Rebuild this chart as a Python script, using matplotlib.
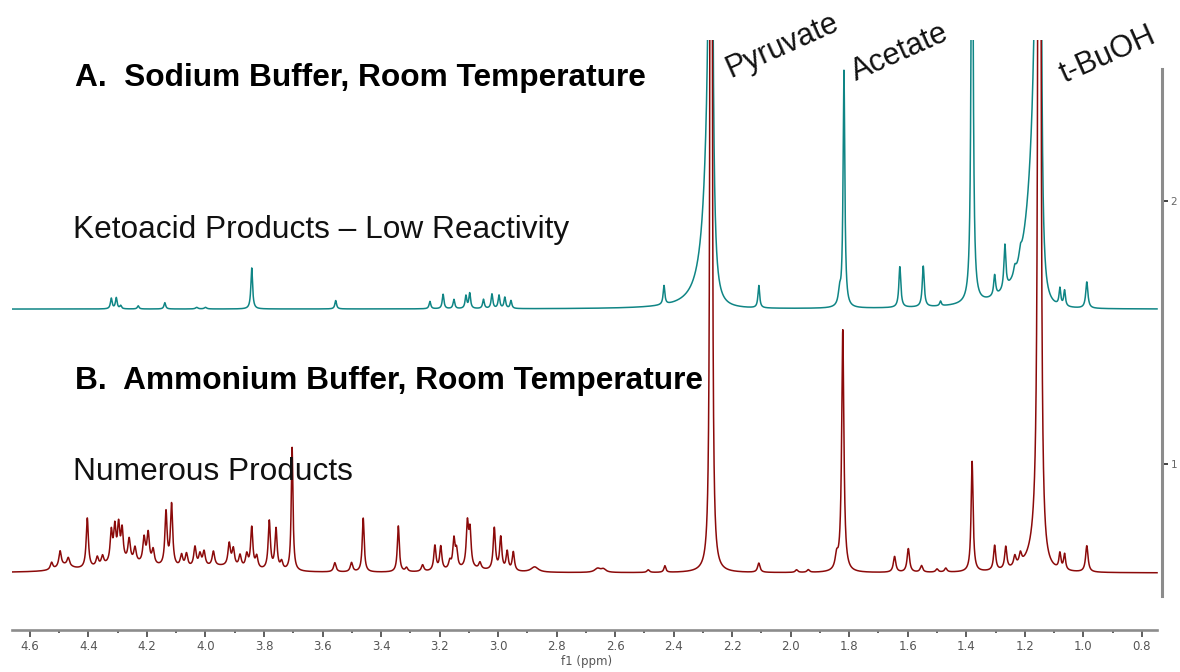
import numpy as np
import matplotlib
matplotlib.use("Agg")
import matplotlib.pyplot as plt
from matplotlib.ticker import FixedLocator

# ---------------------------------------------------------------------------
# Peak lists (chemical shift in ppm, height in intensity units,
# half-widths in ppm on the high-ppm / low-ppm side of each line)
# ---------------------------------------------------------------------------

# A. sodium buffer, room temperature (teal trace)
a_offset = 1.589
a_ppm = [4.322, 4.305, 4.290, 4.230, 4.139, 4.030, 4.000, 3.842, 3.555,
         3.233, 3.188, 3.151, 3.110, 3.097, 3.050, 3.021, 2.997, 2.977,
         2.956, 2.433, 2.273, 2.273, 2.109, 1.833, 1.818, 1.627, 1.547,
         1.488, 1.380, 1.303, 1.268, 1.234, 1.215, 1.150, 1.150, 1.080,
         1.064, 0.988]
a_height = [0.040, 0.042, 0.012, 0.012, 0.024, 0.006, 0.006, 0.156, 0.032,
            0.028, 0.055, 0.035, 0.048, 0.058, 0.035, 0.055, 0.050, 0.042,
            0.030, 0.072, 20.00, 0.840, 0.085, 0.050, 0.900, 0.155, 0.155,
            0.018, 2.200, 0.080, 0.170, 0.030, 0.035, 19.00, 0.750, 0.065,
            0.060, 0.100]
a_hw_high = [0.0035, 0.0035, 0.0035, 0.0035, 0.0035, 0.005, 0.005, 0.0035,
             0.0035, 0.0035, 0.0035, 0.0035, 0.0035, 0.0035, 0.0035, 0.0035,
             0.0035, 0.0035, 0.0035, 0.0035, 0.0015, 0.022, 0.0035, 0.005,
             0.0035, 0.004, 0.004, 0.0035, 0.0035, 0.004, 0.004, 0.005,
             0.005, 0.003, 0.035, 0.0035, 0.0035, 0.0045]
a_hw_low = [0.0035, 0.0035, 0.0035, 0.0035, 0.0035, 0.005, 0.005, 0.0035,
            0.0035, 0.0035, 0.0035, 0.0035, 0.0035, 0.0035, 0.0035, 0.0035,
            0.0035, 0.0035, 0.0035, 0.0035, 0.0015, 0.0076, 0.0035, 0.005,
            0.0035, 0.004, 0.004, 0.0035, 0.0035, 0.004, 0.004, 0.005,
            0.005, 0.0018, 0.004, 0.0035, 0.0035, 0.0045]

# B. ammonium buffer, room temperature (dark red trace)
b_offset = 0.586
b_ppm = [4.526, 4.497, 4.469, 4.480, 4.404, 4.370, 4.352, 4.322, 4.310,
         4.297, 4.285, 4.261, 4.241, 4.210, 4.196, 4.179, 4.135, 4.116,
         4.082, 4.065, 4.036, 4.019, 4.005, 3.973, 3.919, 3.905, 3.882,
         3.859, 3.842, 3.825, 3.782, 3.759, 3.740, 3.704, 4.250, 3.950,
         4.300, 3.558, 3.501, 3.461, 3.341, 3.313, 3.258, 3.216, 3.196,
         3.165, 3.151, 3.142, 3.105, 3.096, 3.062, 3.013, 2.991, 2.969,
         2.948, 3.100, 2.875, 2.660, 2.640, 2.487, 2.430, 2.272, 2.109,
         1.980, 1.940, 1.843, 1.822, 1.645, 1.598, 1.553, 1.500, 1.470,
         1.380, 1.303, 1.265, 1.234, 1.215, 1.150, 1.150, 1.080, 1.064,
         0.988]
b_height = [0.027, 0.060, 0.030, 0.020, 0.190, 0.035, 0.035, 0.115, 0.125,
            0.130, 0.115, 0.085, 0.055, 0.095, 0.115, 0.055, 0.205, 0.235,
            0.045, 0.050, 0.075, 0.045, 0.055, 0.055, 0.085, 0.065, 0.045,
            0.050, 0.155, 0.045, 0.185, 0.155, 0.030, 0.470, 0.025, 0.020,
            0.015, 0.035, 0.035, 0.205, 0.175, 0.015, 0.025, 0.095, 0.090,
            0.030, 0.110, 0.065, 0.165, 0.135, 0.025, 0.160, 0.125, 0.072,
            0.072, 0.012, 0.020, 0.015, 0.012, 0.010, 0.025, 30.00, 0.035,
            0.010, 0.010, 0.050, 0.920, 0.060, 0.090, 0.025, 0.012, 0.015,
            0.420, 0.095, 0.085, 0.040, 0.040, 30.00, 0.120, 0.060, 0.060,
            0.100]
b_hw_high = [0.005, 0.005, 0.005, 0.030, 0.0045, 0.005, 0.005, 0.0045,
             0.0045, 0.0045, 0.0045, 0.005, 0.005, 0.005, 0.005, 0.005,
             0.0045, 0.0045, 0.005, 0.005, 0.005, 0.005, 0.005, 0.005,
             0.005, 0.005, 0.005, 0.005, 0.0045, 0.005, 0.0045, 0.0045,
             0.005, 0.0035, 0.120, 0.100, 0.050, 0.005, 0.005, 0.004,
             0.004, 0.005, 0.005, 0.0045, 0.0045, 0.005, 0.0045, 0.0045,
             0.0045, 0.0045, 0.005, 0.0045, 0.0045, 0.0045, 0.0045, 0.080,
             0.015, 0.012, 0.010, 0.005, 0.004, 0.0012, 0.005, 0.005,
             0.005, 0.006, 0.0045, 0.005, 0.005, 0.005, 0.005, 0.005,
             0.004, 0.0045, 0.0045, 0.005, 0.005, 0.0016, 0.030, 0.004,
             0.004, 0.005]
b_hw_low = [0.005, 0.005, 0.005, 0.030, 0.0045, 0.005, 0.005, 0.0045,
            0.0045, 0.0045, 0.0045, 0.005, 0.005, 0.005, 0.005, 0.005,
            0.0045, 0.0045, 0.005, 0.005, 0.005, 0.005, 0.005, 0.005,
            0.005, 0.005, 0.005, 0.005, 0.0045, 0.005, 0.0045, 0.0045,
            0.005, 0.0035, 0.120, 0.100, 0.050, 0.005, 0.005, 0.004,
            0.004, 0.005, 0.005, 0.0045, 0.0045, 0.005, 0.0045, 0.0045,
            0.0045, 0.0045, 0.005, 0.0045, 0.0045, 0.0045, 0.0045, 0.080,
            0.015, 0.012, 0.010, 0.005, 0.004, 0.0012, 0.005, 0.005,
            0.005, 0.006, 0.0045, 0.005, 0.005, 0.005, 0.005, 0.005,
            0.004, 0.0045, 0.0045, 0.005, 0.005, 0.0016, 0.004, 0.004,
            0.004, 0.005]

# Axis ticks
x_ticks = [4.6, 4.4, 4.2, 4.0, 3.8, 3.6, 3.4, 3.2, 3.0, 2.8, 2.6, 2.4,
           2.2, 2.0, 1.8, 1.6, 1.4, 1.2, 1.0, 0.8]
x_tick_labels = ["4.6", "4.4", "4.2", "4.0", "3.8", "3.6", "3.4", "3.2",
                 "3.0", "2.8", "2.6", "2.4", "2.2", "2.0", "1.8", "1.6",
                 "1.4", "1.2", "1.0", "0.8"]
x_minor = [4.5, 4.3, 4.1, 3.9, 3.7, 3.5, 3.3, 3.1, 2.9, 2.7, 2.5, 2.3,
           2.1, 1.9, 1.7, 1.5, 1.3, 1.1, 0.9]
y_ticks = [1, 2]
y_tick_labels = ["1", "2"]

# Labels
peak_names = ["Pyruvate", "Acetate", "t-BuOH"]
title_a = "A.  Sodium Buffer, Room Temperature"
note_a = "Ketoacid Products \u2013 Low Reactivity"
title_b = "B.  Ammonium Buffer, Room Temperature"
note_b = "Numerous Products"

TEAL = "#0f8585"
DARKRED = "#8b0a0a"
AXIS_GREY = "#8c8c8c"
FONT = ["Liberation Sans", "DejaVu Sans"]


def line_shape(shift, centres, heights, hw_high, hw_low):
    """Sum of Lorentzian lines with separate half-widths on each side."""
    total = np.zeros_like(shift)
    for c, h, wl, wr in zip(centres, heights, hw_high, hw_low):
        d = shift - c
        w = np.where(d > 0, wl, wr)
        total += h * w ** 2 / (w ** 2 + d ** 2)
    return total


shift = np.linspace(4.663, 0.748, 20000)
trace_a = a_offset + line_shape(shift, a_ppm, a_height, a_hw_high, a_hw_low)
trace_b = b_offset + line_shape(shift, b_ppm, b_height, b_hw_high, b_hw_low)

fig = plt.figure(figsize=(11.8, 6.72), dpi=100)
ax = fig.add_axes([0.00975, 0.0625, 0.9750, 0.8780])

ax.plot(shift, trace_a, color=TEAL, lw=1.1, solid_joinstyle="round")
ax.plot(shift, trace_b, color=DARKRED, lw=1.1, solid_joinstyle="round")

ax.set_xlim(4.663, 0.731)
ax.set_ylim(0.369, 2.612)

# spines
ax.spines["left"].set_visible(False)
ax.spines["top"].set_visible(False)
ax.spines["bottom"].set_color(AXIS_GREY)
ax.spines["bottom"].set_linewidth(1.9)
ax.spines["bottom"].set_bounds(4.663, 0.748)
ax.spines["right"].set_color(AXIS_GREY)
ax.spines["right"].set_linewidth(2.2)
ax.spines["right"].set_bounds(0.5, 2.5)

# x axis (ppm)
ax.xaxis.set_major_locator(FixedLocator(x_ticks))
ax.set_xticklabels(x_tick_labels)
ax.xaxis.set_minor_locator(FixedLocator(x_minor))
ax.tick_params(axis="x", which="major", direction="out", length=5,
               width=1.1, color="#333333", labelsize=8.5,
               labelcolor="#555555", pad=2)
ax.tick_params(axis="x", which="minor", direction="out", length=2.5,
               width=1.1, color="#333333")
ax.set_xlabel("f1 (ppm)", fontsize=8.5, color="#555555", labelpad=2)

# intensity axis on the right
ax.yaxis.tick_right()
ax.set_yticks(y_ticks)
ax.set_yticklabels(y_tick_labels)
ax.tick_params(axis="y", which="major", direction="out", length=4,
               width=1.2, color="#222222", labelsize=7.5,
               labelcolor="#666666", pad=2, left=False, right=True)

# headings and notes
fig.text(0.0636, 0.8720, title_a, fontsize=22.8, fontweight="bold",
         family=FONT, va="baseline", ha="left")
fig.text(0.0619, 0.6458, note_a, fontsize=22.8, family=FONT,
         va="baseline", ha="left", color="#111111")
fig.text(0.0636, 0.4211, title_b, fontsize=22.8, fontweight="bold",
         family=FONT, va="baseline", ha="left")
fig.text(0.0619, 0.2857, note_b, fontsize=22.8, family=FONT,
         va="baseline", ha="left", color="#111111")

# rotated peak assignments
label_pos = [(0.6195, 0.8840), (0.7255, 0.8800), (0.9025, 0.8770)]
for name, (px, py) in zip(peak_names, label_pos):
    fig.text(px, py, name, fontsize=22, family=FONT, rotation=24,
             rotation_mode="anchor", ha="left", va="baseline",
             color="#111111")

fig.savefig("out.png", dpi=100)
